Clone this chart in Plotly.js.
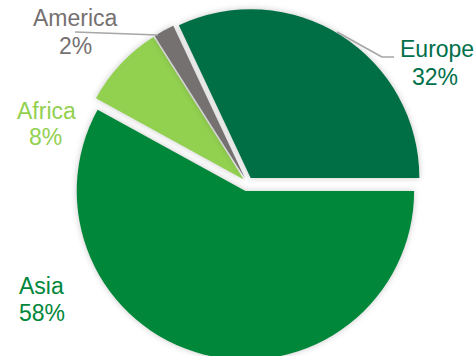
<!DOCTYPE html>
<html>
<head>
<meta charset="utf-8">
<script src="https://cdn.plot.ly/plotly-3.0.1.min.js"></script>
<style>
html, body { margin: 0; padding: 0; overflow: hidden; background: #fff; }
#chart { width: 476px; height: 360px; }
.slice path.surface { filter: drop-shadow(0px 0px 3px rgba(0,0,0,0.22)); }
</style>
</head>
<body>
<div id="chart"></div>
<script>
// Data (drawing order, clockwise from 3 o'clock)
var regions = ['Asia', 'Africa', 'America', 'Europe'];
var shares = [58, 8, 2, 32];
var sliceColors = ['#00873A', '#92D050', '#767171', '#006F46'];
var labelColors = ['#00873A', '#92D050', '#767171', '#00704A'];

var W = 476, H = 360;
function px(x) { return x / W; }
function py(y) { return 1 - y / H; }

// label placement (pixels) per region: [nameX, nameY, pctX, pctY]
var labelPos = {
  'Asia':    [41, 286, 42, 313],
  'Africa':  [46, 111, 45, 136.5],
  'America': [75, 18, 75, 46],
  'Europe':  [437, 49.5, 435, 77]
};

var annotations = [];
regions.forEach(function (r, i) {
  var p = labelPos[r];
  var f = { family: 'Liberation Sans, Arial, sans-serif', size: 23, color: labelColors[i] };
  annotations.push({ text: r, x: px(p[0]), y: py(p[1]), xref: 'paper', yref: 'paper',
    xanchor: 'center', yanchor: 'middle', showarrow: false, font: f });
  annotations.push({ text: shares[i] + '%', x: px(p[2]), y: py(p[3]), xref: 'paper', yref: 'paper',
    xanchor: 'center', yanchor: 'middle', showarrow: false, font: f });
});

var leader = { color: '#A6A6A6', width: 1.5 };
var shapes = [
  { type: 'line', xref: 'paper', yref: 'paper', x0: px(75), y0: py(32), x1: px(158), y1: py(35), line: leader },
  { type: 'line', xref: 'paper', yref: 'paper', x0: px(337), y0: py(32), x1: px(382), y1: py(57), line: leader },
  { type: 'line', xref: 'paper', yref: 'paper', x0: px(382), y0: py(57), x1: px(394), y1: py(57), line: leader }
];

var trace = {
  type: 'pie',
  labels: regions,
  values: shares,
  sort: false,
  direction: 'clockwise',
  rotation: 90,
  pull: [0.05, 0.03, 0.03, 0.035],
  marker: { colors: sliceColors, line: { width: 0 } },
  textinfo: 'none',
  hoverinfo: 'label+percent',
  showlegend: false,
  domain: { x: [0.14, 0.90], y: [0, 0.984] }
};

var layout = {
  width: W,
  height: H,
  margin: { l: 0, r: 0, t: 0, b: 0 },
  paper_bgcolor: '#ffffff',
  plot_bgcolor: '#ffffff',
  showlegend: false,
  annotations: annotations,
  shapes: shapes
};

Plotly.newPlot('chart', [trace], layout, { staticPlot: true, displayModeBar: false });
</script>
</body>
</html>
